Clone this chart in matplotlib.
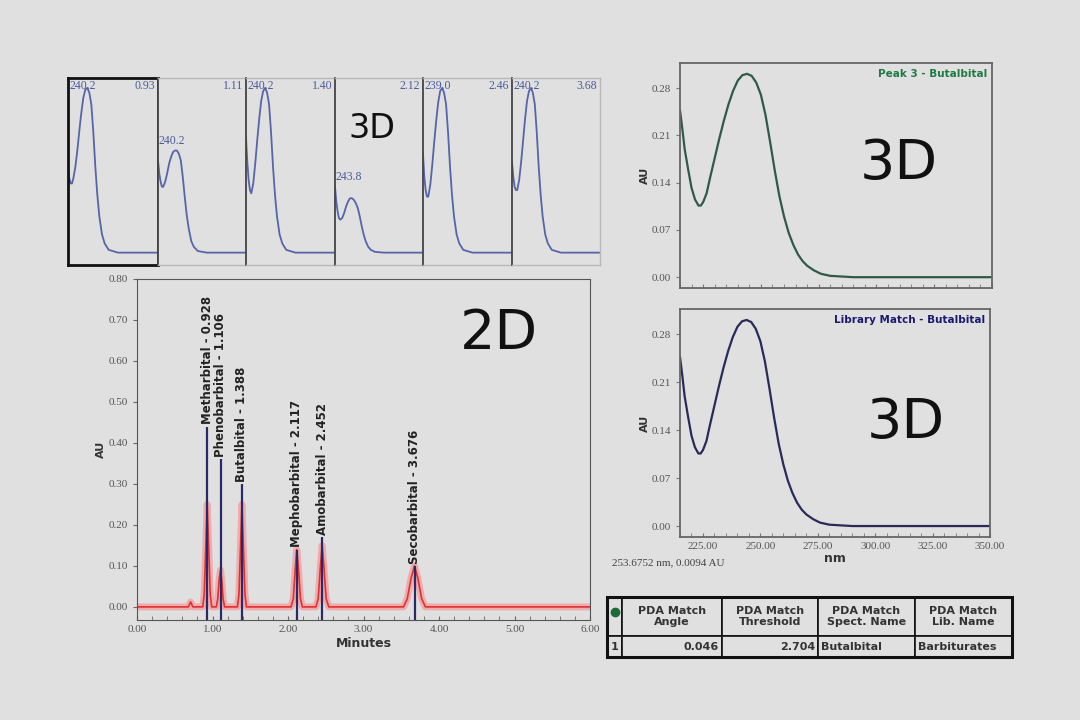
import matplotlib
matplotlib.use("Agg")
import matplotlib.pyplot as plt
from matplotlib.ticker import MultipleLocator, FormatStrFormatter

# ---- data ----
# chromatogram peaks (minutes, AU)
peak_names = ['Metharbital - 0.928', 'Phenobarbital - 1.106', 'Butalbital - 1.388',
              'Mephobarbital - 2.117', 'Amobarbital - 2.452', 'Secobarbital - 3.676']
peak_rt = [0.928, 1.106, 1.388, 2.117, 2.452, 3.676]
peak_au = [0.44, 0.36, 0.30, 0.14, 0.17, 0.10]

# red trace vertices (minutes, AU)
red_t = [0.00, 0.68, 0.71, 0.74, 0.87, 0.89, 0.91, 0.93, 0.95, 0.97, 0.99,
         1.05, 1.07, 1.09, 1.106, 1.12, 1.14, 1.16,
         1.33, 1.35, 1.37, 1.39, 1.41, 1.43, 1.45,
         2.04, 2.07, 2.095, 2.117, 2.14, 2.165, 2.19,
         2.37, 2.40, 2.43, 2.452, 2.475, 2.505, 2.54,
         3.53, 3.58, 3.63, 3.676, 3.72, 3.77, 3.82, 6.00]
red_au = [0.0, 0.0, 0.012, 0.0, 0.0, 0.03, 0.14, 0.25, 0.14, 0.03, 0.0,
          0.0, 0.02, 0.07, 0.09, 0.07, 0.02, 0.0,
          0.0, 0.03, 0.14, 0.25, 0.14, 0.03, 0.0,
          0.0, 0.02, 0.09, 0.14, 0.09, 0.02, 0.0,
          0.0, 0.02, 0.10, 0.15, 0.10, 0.02, 0.0,
          0.0, 0.02, 0.07, 0.10, 0.07, 0.02, 0.0, 0.0]

# PDA spectrum of peak 3 / library match (nm, AU)
spec_nm = [215, 216, 217, 218.5, 220, 221.5, 223, 224, 225, 226.5, 228, 230, 232, 234,
           236, 238, 240, 242, 244, 246, 248, 250, 252, 254, 256, 258, 260, 262, 264,
           266, 268, 270, 273, 276, 280, 290, 350]
spec_au = [0.247, 0.22, 0.19, 0.16, 0.132, 0.115, 0.106, 0.106, 0.111, 0.124, 0.147,
           0.176, 0.205, 0.232, 0.256, 0.276, 0.291, 0.299, 0.301, 0.298, 0.288, 0.270,
           0.240, 0.200, 0.158, 0.120, 0.090, 0.066, 0.048, 0.034, 0.024, 0.017, 0.010,
           0.005, 0.002, 0.0, 0.0]
lib_au = [0.247, 0.22, 0.19, 0.16, 0.132, 0.115, 0.106, 0.106, 0.111, 0.124, 0.147,
          0.176, 0.205, 0.232, 0.256, 0.276, 0.291, 0.299, 0.301, 0.298, 0.288, 0.270,
          0.240, 0.200, 0.158, 0.120, 0.090, 0.066, 0.048, 0.034, 0.024, 0.017, 0.010,
          0.005, 0.002, 0.0, 0.0]

# small spectra strip (relative absorbance)
small_nm = [215, 217, 219, 221, 223, 226, 229, 232, 235, 238, 241, 244, 247, 250, 253,
            256, 259, 262, 266, 270, 276, 290, 350]
small_spectra = [
    [0.50, 0.45, 0.42, 0.42, 0.45, 0.52, 0.62, 0.74, 0.85, 0.94, 0.99, 1.0, 0.97, 0.90,
     0.73, 0.52, 0.35, 0.22, 0.11, 0.056, 0.017, 0.0, 0.0],
    [0.56, 0.48, 0.43, 0.40, 0.40, 0.43, 0.48, 0.54, 0.58, 0.61, 0.62, 0.62, 0.60, 0.56,
     0.46, 0.34, 0.23, 0.15, 0.07, 0.035, 0.01, 0.0, 0.0],
    [0.70, 0.55, 0.44, 0.38, 0.36, 0.42, 0.54, 0.68, 0.81, 0.92, 0.98, 1.0, 0.97, 0.90,
     0.73, 0.52, 0.35, 0.22, 0.11, 0.056, 0.017, 0.0, 0.0],
    [0.40, 0.31, 0.25, 0.21, 0.20, 0.21, 0.24, 0.28, 0.31, 0.33, 0.33, 0.32, 0.30, 0.27,
     0.22, 0.16, 0.11, 0.07, 0.035, 0.017, 0.005, 0.0, 0.0],
    [0.60, 0.46, 0.38, 0.34, 0.34, 0.41, 0.53, 0.67, 0.80, 0.91, 0.98, 1.0, 0.97, 0.90,
     0.73, 0.52, 0.35, 0.22, 0.11, 0.056, 0.017, 0.0, 0.0],
    [0.55, 0.46, 0.40, 0.38, 0.38, 0.44, 0.55, 0.68, 0.81, 0.92, 0.98, 1.0, 0.97, 0.90,
     0.73, 0.52, 0.35, 0.22, 0.11, 0.056, 0.017, 0.0, 0.0],
]
small_lambda = ['240.2', '240.2', '240.2', '243.8', '239.0', '240.2']
small_rt = ['0.93', '1.11', '1.40', '2.12', '2.46', '3.68']

table_cols = ['', 'PDA Match\nAngle', 'PDA Match\nThreshold', 'PDA Match\nSpect. Name',
              'PDA Match\nLib. Name']
table_row = ['1', '0.046', '2.704', 'Butalbital', 'Barbiturates']

bg = '#e0e0e0'
tick_font = dict(family='Liberation Serif', size=8, color='#555555')

fig = plt.figure(figsize=(10.8, 7.2), dpi=100, facecolor=bg)


def rect(l, t, r, b):
    return [l / 1080, 1 - b / 720, (r - l) / 1080, (b - t) / 720]


# ---- small spectra strip ----
lefts = [68, 158, 246, 335, 423, 512, 600]
for i, vals in enumerate(small_spectra):
    ax = fig.add_axes(rect(lefts[i], 78, lefts[i + 1], 265))
    ax.set_facecolor(bg)
    ax.plot(small_nm, vals, color='#5565a8', lw=1.3)
    ax.set_xlim(215, 350)
    ax.set_ylim(-0.075, 1.06)
    ax.set_xticks([])
    ax.set_yticks([])
    for s in ax.spines.values():
        s.set_color('#b8b8b8')
        s.set_linewidth(1)
    ax.spines['left'].set_color('#444444')
    ax.spines['left'].set_linewidth(1.3)
    if i == 0:
        for s in ax.spines.values():
            s.set_color('#111111')
            s.set_linewidth(2)
    top = max(vals)
    if top > 0.9:
        ax.text(0.02, 0.99, small_lambda[i], transform=ax.transAxes, ha='left', va='top',
                family='Liberation Serif', size=8.5, color='#4a5a9a')
    else:
        ax.text(216, top + 0.02, small_lambda[i], ha='left', va='bottom',
                family='Liberation Serif', size=8.5, color='#4a5a9a')
    ax.text(0.97, 0.99, small_rt[i], transform=ax.transAxes, ha='right', va='top',
            family='Liberation Serif', size=8.5, color='#4a5a9a')

fig.text(372 / 1080, 1 - 128 / 720, '3D', ha='center', va='center', size=24, color='#111111')

# ---- main chromatogram ----
ax = fig.add_axes(rect(137, 279, 590, 620))
ax.set_facecolor(bg)
ax.plot(red_t, red_au, color='#f2a0a0', lw=5, alpha=0.8, solid_joinstyle='round')
ax.plot(red_t, red_au, color='#e03030', lw=1.2)
ax.vlines(peak_rt, -0.032, peak_au, color='#2a2a6a', lw=1.6)
for rt, h, name in zip(peak_rt, peak_au, peak_names):
    ax.text(rt, h + 0.005, name, rotation=90, ha='center', va='bottom',
            size=8.5, weight='bold', color='#222222')
ax.set_xlim(0, 6)
ax.set_ylim(-0.032, 0.80)
ax.xaxis.set_major_locator(MultipleLocator(1))
ax.xaxis.set_minor_locator(MultipleLocator(0.2))
ax.yaxis.set_major_locator(MultipleLocator(0.1))
ax.xaxis.set_major_formatter(FormatStrFormatter('%.2f'))
ax.yaxis.set_major_formatter(FormatStrFormatter('%.2f'))
ax.tick_params(axis='x', which='both', direction='in', length=3, color='#666666')
ax.tick_params(axis='y', direction='out', length=3, color='#666666')
for lab in ax.get_xticklabels() + ax.get_yticklabels():
    lab.set(**tick_font)
for s in ax.spines.values():
    s.set_color('#555555')
ax.set_xlabel('Minutes', size=9, weight='bold', color='#333333', labelpad=2)
ax.set_ylabel('AU', size=8, weight='bold', color='#333333', labelpad=2)
ax.text(0.80, 0.84, '2D', transform=ax.transAxes, ha='center', va='center',
        size=40, color='#111111')


# ---- spectrum panels ----
def spectrum_panel(r, au, color, title, title_color, xlabels):
    a = fig.add_axes(r)
    a.set_facecolor(bg)
    a.plot(spec_nm, au, color=color, lw=1.6)
    a.set_xlim(215, 350)
    a.set_ylim(-0.016, 0.317)
    a.set_yticks([0.0, 0.07, 0.14, 0.21, 0.28])
    a.yaxis.set_major_formatter(FormatStrFormatter('%.2f'))
    a.set_xticks([225, 250, 275, 300, 325, 350])
    a.xaxis.set_minor_locator(MultipleLocator(5))
    a.xaxis.set_major_formatter(FormatStrFormatter('%.2f'))
    a.tick_params(axis='x', which='both', direction='in', length=3, color='#777777')
    a.tick_params(axis='y', direction='out', length=3, color='#777777')
    if not xlabels:
        a.set_xticklabels([])
    for lab in a.get_xticklabels() + a.get_yticklabels():
        lab.set(**tick_font)
    for s in a.spines.values():
        s.set_color('#666666')
        s.set_linewidth(1.3)
    a.set_ylabel('AU', size=8, weight='bold', color='#333333', labelpad=1)
    a.text(0.985, 0.975, title, transform=a.transAxes, ha='right', va='top',
           size=7.5, weight='bold', color=title_color)
    return a


a1 = spectrum_panel(rect(680, 63, 992, 288), spec_au, '#2f5a48', 'Peak 3 - Butalbital',
                    '#1f7a45', False)
a1.text(0.70, 0.55, '3D', transform=a1.transAxes, ha='center', va='center',
        size=40, color='#111111')

a2 = spectrum_panel(rect(680, 309, 990, 537), lib_au, '#2a2a5a', 'Library Match - Butalbital',
                    '#1a1a70', True)
a2.set_xlabel('nm', size=9, weight='bold', color='#333333', labelpad=1)
a2.text(0.73, 0.50, '3D', transform=a2.transAxes, ha='center', va='center',
        size=40, color='#111111')

fig.text(612 / 1080, 1 - 563 / 720, '253.6752 nm, 0.0094 AU', ha='left', va='center',
         family='Liberation Serif', size=8, color='#444444')

# ---- table ----
at = fig.add_axes(rect(607, 597, 1012, 657))
at.axis('off')
widths = [15, 100, 96, 97, 97]
tot = sum(widths)
tbl = at.table(cellText=[table_row], colLabels=table_cols,
               colWidths=[w / tot for w in widths], cellLoc='center', bbox=[0, 0, 1, 1])
tbl.auto_set_font_size(False)
for (r, c), cell in tbl.get_celld().items():
    cell.set_facecolor(bg)
    cell.set_edgecolor('#111111')
    cell.set_linewidth(1.2)
    cell.set_height(0.65 if r == 0 else 0.35)
    cell.get_text().set(size=8, weight='bold', color='#333333')
    if r == 1:
        cell.PAD = 0.03
        if c in (1, 2):
            cell._loc = 'right'
            cell.get_text().set_ha('right')
        elif c in (3, 4):
            cell._loc = 'left'
            cell.get_text().set_ha('left')
at.add_patch(plt.Rectangle((0, 0), 1, 1, transform=at.transAxes, fill=False,
                           lw=2.2, ec='#111111', clip_on=False))
at.plot([7.5 / tot], [0.75], 'o', color='#1f6a3a', ms=6, transform=at.transAxes, clip_on=False)

fig.savefig('out.png', dpi=100, facecolor=bg)
